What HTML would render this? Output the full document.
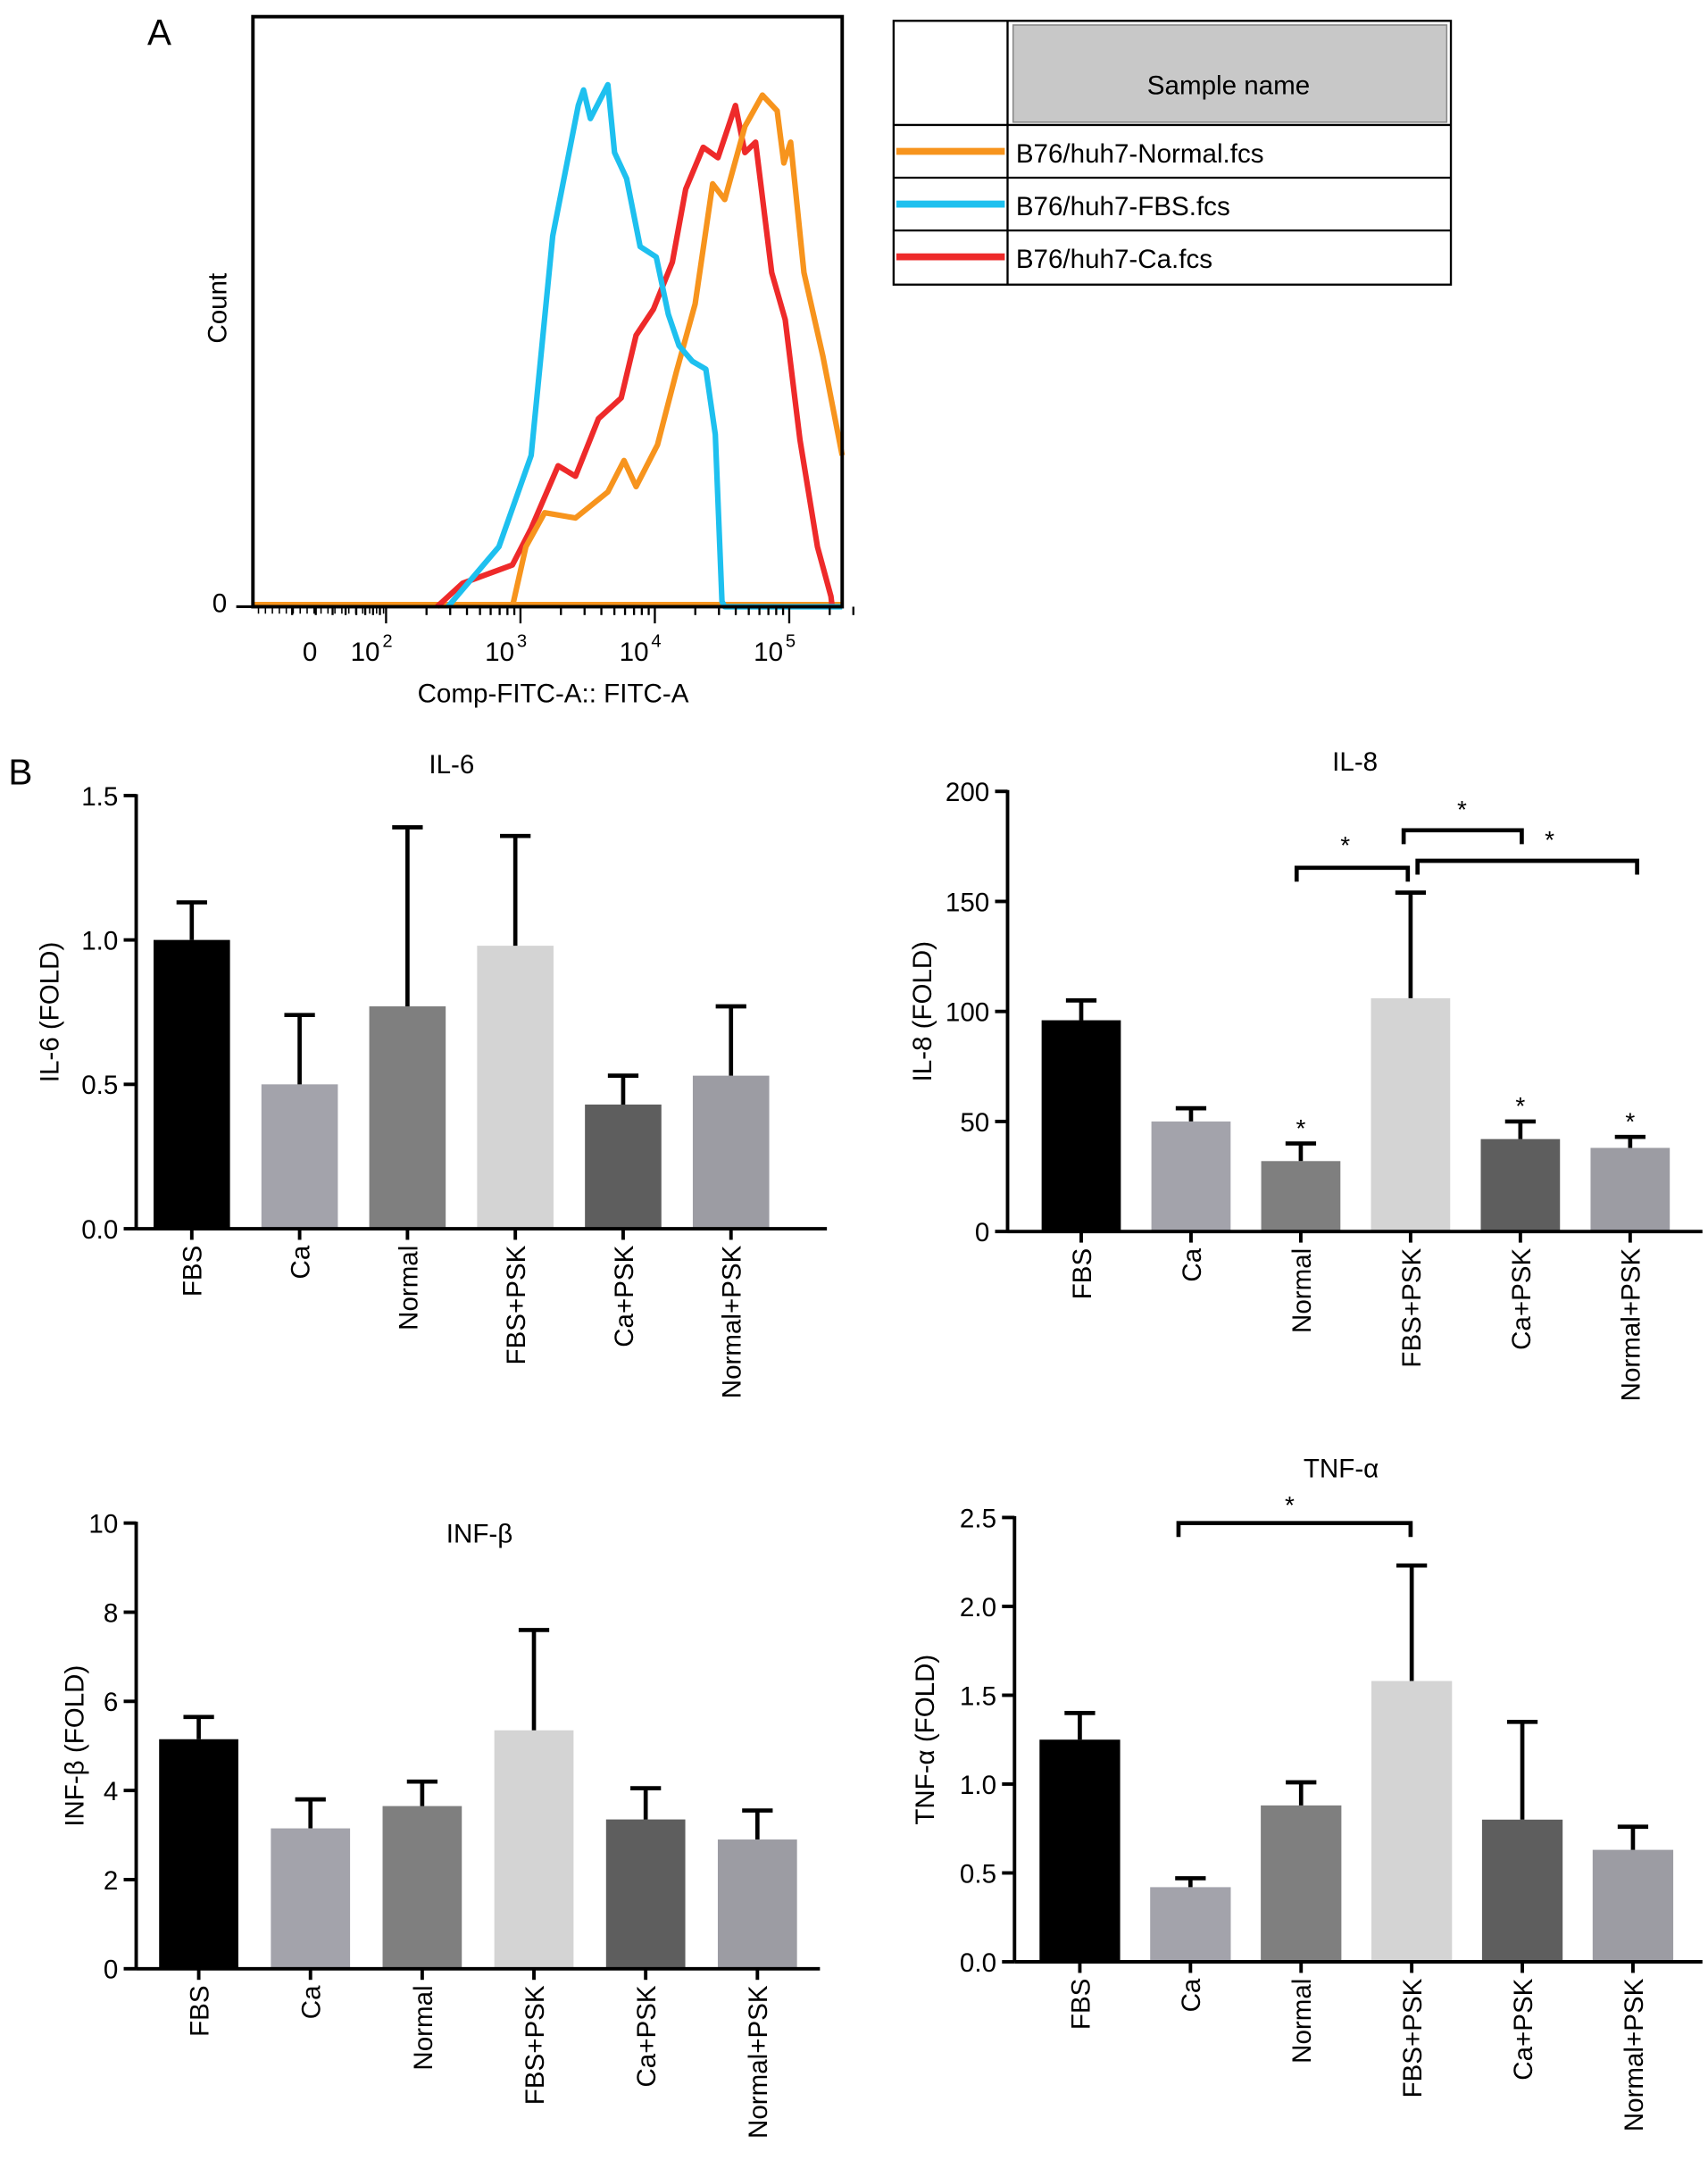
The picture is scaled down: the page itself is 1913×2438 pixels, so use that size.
<!DOCTYPE html>
<html><head><meta charset="utf-8">
<style>
html,body{margin:0;padding:0;background:#fff;}
svg{display:block;font-family:"Liberation Sans",Arial,sans-serif;}
</style></head>
<body>
<svg id="fig" width="1913" height="2438" viewBox="0 0 1229 1568" preserveAspectRatio="none" xmlns="http://www.w3.org/2000/svg">
<g id="panelA"></g>
<g id="panelB"></g>
</svg>
<script>
// ---------- Panel A data ----------
const histLogX_blue = [2.46,2.84,3.08,3.24,3.43,3.47,3.52,3.65,3.70,3.79,3.89,4.01,4.10,4.18,4.28,4.38,4.45,4.50,4.52,5.6];
const histY_blue    = [0,0.115,0.29,0.71,0.96,0.99,0.935,1.0,0.87,0.82,0.69,0.67,0.56,0.50,0.47,0.455,0.33,0.01,0,0];
const histLogX_red  = [2.38,2.57,2.94,3.08,3.28,3.41,3.58,3.75,3.86,3.99,4.13,4.23,4.36,4.47,4.60,4.67,4.75,4.87,4.97,5.08,5.21,5.31,5.32];
const histY_red     = [0,0.045,0.08,0.15,0.27,0.25,0.36,0.40,0.52,0.57,0.66,0.80,0.88,0.86,0.96,0.87,0.89,0.64,0.55,0.32,0.115,0.02,0];
const histLogX_org  = [2.94,3.04,3.18,3.41,3.65,3.77,3.86,4.02,4.16,4.30,4.43,4.52,4.67,4.80,4.91,4.96,5.01,5.11,5.25,5.40];
const histY_org     = [0,0.115,0.18,0.17,0.22,0.28,0.23,0.31,0.45,0.58,0.81,0.78,0.92,0.98,0.95,0.85,0.89,0.64,0.48,0.29];
const histTickLabels = ["0","10","10","10","10"];
const histTickExp    = ["","2","3","4","5"];
const histTickPos    = [1.25,2,3,4,5];
const legendNames = ["B76/huh7-Normal.fcs","B76/huh7-FBS.fcs","B76/huh7-Ca.fcs"];
const legendColors = ["#f7941d","#1ec0ef","#ee2a2a"];

// ---------- Panel B data ----------
const categories = ["FBS","Ca","Normal","FBS+PSK","Ca+PSK","Normal+PSK"];
const il6Values = [1.0,0.5,0.77,0.98,0.43,0.53];
const il6Errors = [1.13,0.74,1.39,1.36,0.53,0.77];
const il6Ticks  = ["0.0","0.5","1.0","1.5"];
const il8Values = [96,50,32,106,42,38];
const il8Errors = [105,56,40,154,50,43];
const il8Ticks  = ["0","50","100","150","200"];
const il8Stars  = [false,false,true,false,true,true];
const infValues = [5.15,3.15,3.65,5.35,3.35,2.9];
const infErrors = [5.65,3.8,4.2,7.6,4.05,3.55];
const infTicks  = ["0","2","4","6","8","10"];
const tnfValues = [1.25,0.42,0.88,1.58,0.8,0.63];
const tnfErrors = [1.4,0.47,1.01,2.23,1.35,0.76];
const tnfTicks  = ["0.0","0.5","1.0","1.5","2.0","2.5"];
const barColors = ["#000000","#a3a3ab","#7f7f7f","#d4d4d4","#5e5e5e","#9c9ca3"];

const NS="http://www.w3.org/2000/svg";
function mk(tag,attrs,parent,text){const e=document.createElementNS(NS,tag);for(const k in attrs)e.setAttribute(k,attrs[k]);if(text!==undefined)e.textContent=text;parent.appendChild(e);return e;}

// ---------- Panel A ----------
const A=document.getElementById('panelA');
const hx=v=>374.5+(v-3)*96.7;
const hy=f=>437-f*376;
let t;
t=mk('text',{x:106,y:32,'font-size':26},A,'A');


function drawCurve(xs,ys,color,name){
  let d='';
  for(let i=0;i<xs.length;i++){d+=(i?'L':'M')+Math.min(606,Math.max(182,hx(xs[i]))).toFixed(1)+','+hy(ys[i]).toFixed(1);}
  const p=mk('path',{d:d,fill:'none',stroke:color,'stroke-width':4,'stroke-linejoin':'round'},A);
  
  
}
const bl=mk('line',{x1:182,y1:435,x2:606,y2:435,stroke:'#f7941d','stroke-width':3},A);


drawCurve(histLogX_red,histY_red,'#ee2a2a','histogram-ca');
drawCurve(histLogX_org,histY_org,'#f7941d','histogram-normal');
drawCurve(histLogX_blue,histY_blue,'#1ec0ef','histogram-fbs');
const box=mk('rect',{x:182,y:12,width:424,height:425,fill:'none',stroke:'#000','stroke-width':2.5},A);


t=mk('text',{x:0,y:0,'font-size':19,'text-anchor':'middle',transform:'translate(163,222) rotate(-90)'},A,'Count');


t=mk('text',{x:158,y:441,'font-size':19,'text-anchor':'middle'},A,'0');


mk('line',{x1:170,y1:437,x2:182,y2:437,stroke:'#000','stroke-width':2},A);
for(let d=1;d<=5;d++){
  for(let m=1;m<10;m++){
    const v=d+Math.log10(m); if(v>5.5)continue;
    const px=hx(v); if(px<182)continue;
    mk('line',{x1:px,y1:437,x2:px,y2:m===1?449:443,stroke:'#000','stroke-width':1.5},A);
  }
}
for(let px=186;px<=278;px+=5){mk('line',{x1:px,y1:437,x2:px,y2:442,stroke:'#000','stroke-width':1},A);}
for(let i=0;i<histTickLabels.length;i++){
  const px=i===0?223:hx(histTickPos[i])-15;
  t=mk('text',{x:px,y:476,'font-size':19,'text-anchor':'middle'},A,histTickLabels[i]);
  
  
  if(histTickExp[i])mk('text',{x:px+16,y:466,'font-size':13,'text-anchor':'middle'},A,histTickExp[i]);
}
t=mk('text',{x:398,y:506,'font-size':19,'text-anchor':'middle'},A,'Comp-FITC-A:: FITC-A');


const L=mk('g',{},A);


mk('rect',{x:643,y:15,width:401,height:190,fill:'#fff',stroke:'#000','stroke-width':1.5},L);
mk('rect',{x:729,y:18,width:312,height:70,fill:'#c8c8c8',stroke:'#888','stroke-width':1},L);
mk('line',{x1:725,y1:15,x2:725,y2:205,stroke:'#000','stroke-width':1.5},L);
t=mk('text',{x:884,y:68,'font-size':19,'text-anchor':'middle'},L,'Sample name');


const rowTop=[90,128,166];
for(let i=0;i<3;i++){
  mk('line',{x1:643,y1:rowTop[i],x2:1044,y2:rowTop[i],stroke:'#000','stroke-width':1.5},L);
  const ln=mk('line',{x1:645,y1:rowTop[i]+19,x2:723,y2:rowTop[i]+19,stroke:legendColors[i],'stroke-width':5},L);
  
  
  t=mk('text',{x:731,y:rowTop[i]+27,'font-size':19},L,legendNames[i]);
  
  
}

// ---------- Panel B ----------
const B=document.getElementById('panelB');
t=mk('text',{x:6,y:565,'font-size':26},B,'B');



function barChart(cfg){
  const g=mk('g',{},B);
  
  
  const yS=v=>cfg.y0-(v/cfg.max)*(cfg.y0-cfg.yTop);
  const xS=i=>cfg.c0+i*cfg.step;
  for(let i=0;i<cfg.values.length;i++){
    const r=mk('rect',{x:xS(i)-cfg.bw/2,y:yS(cfg.values[i]),width:cfg.bw,height:cfg.y0-yS(cfg.values[i]),fill:barColors[i]},g);
    
    
    const e=mk('path',{d:`M${xS(i)},${yS(cfg.values[i])}V${yS(cfg.errors[i])}M${xS(i)-11},${yS(cfg.errors[i])}H${xS(i)+11}`,stroke:'#000','stroke-width':3,fill:'none'},g);
    
    
    if(cfg.stars&&cfg.stars[i]){
      t=mk('text',{x:xS(i),y:yS(cfg.errors[i])-5,'font-size':18,'text-anchor':'middle'},g,'*');
      
      
    }
    t=mk('text',{x:0,y:0,'font-size':19,'text-anchor':'end',transform:`translate(${xS(i)+7},${cfg.y0+12}) rotate(-90)`},g,categories[i]);
    
    
  }
  mk('line',{x1:cfg.ax,y1:cfg.yTop-1,x2:cfg.ax,y2:cfg.y0,stroke:'#000','stroke-width':2.5},g);
  mk('line',{x1:cfg.ax,y1:cfg.y0,x2:cfg.xEnd,y2:cfg.y0,stroke:'#000','stroke-width':2.5},g);
  for(let i=0;i<cfg.ticks.length;i++){
    const v=parseFloat(cfg.ticks[i]);const py=yS(v);
    mk('line',{x1:cfg.ax-9,y1:py,x2:cfg.ax,y2:py,stroke:'#000','stroke-width':2.5},g);
    t=mk('text',{x:cfg.ax-13,y:py+7,'font-size':19,'text-anchor':'end'},g,cfg.ticks[i]);
    
    
  }
  for(let i=0;i<cfg.values.length;i++){mk('line',{x1:xS(i),y1:cfg.y0,x2:xS(i),y2:cfg.y0+8,stroke:'#000','stroke-width':2.5},g);}
  t=mk('text',{x:cfg.tx,y:cfg.ty,'font-size':19,'text-anchor':'middle'},g,cfg.title);
  
  
  t=mk('text',{x:0,y:0,'font-size':19,'text-anchor':'middle',transform:`translate(${cfg.ytx},${(cfg.y0+cfg.yTop)/2}) rotate(-90)`},g,cfg.ytitle);
  
  
  (cfg.brackets||[]).forEach(b=>{
    const p=mk('path',{d:`M${b[0]},${b[2]+10}V${b[2]}H${b[1]}V${b[2]+10}`,stroke:'#000','stroke-width':3,fill:'none'},g);
    
    
    t=mk('text',{x:b[3],y:b[4],'font-size':18,'text-anchor':'middle'},g,'*');
    
    
  });
}
barChart({name:'il6-chart',values:il6Values,errors:il6Errors,ticks:il6Ticks,max:1.5,y0:885,yTop:573,ax:98,xEnd:595,c0:138,step:77.6,bw:55,title:'IL-6',tx:325,ty:557,ytitle:'IL-6 (FOLD)',ytx:42});
barChart({name:'il8-chart',values:il8Values,errors:il8Errors,ticks:il8Ticks,stars:il8Stars,max:200,y0:887,yTop:570,ax:725,xEnd:1225,c0:778,step:79,bw:57,title:'IL-8',tx:975,ty:555,ytitle:'IL-8 (FOLD)',ytx:670,
  brackets:[[933,1013,625,968,615],[1010,1095,598,1052,589],[1020,1178,620,1115,611]]});
barChart({name:'inf-beta-chart',values:infValues,errors:infErrors,ticks:infTicks,max:10,y0:1418,yTop:1097,ax:98,xEnd:590,c0:143,step:80.4,bw:57,title:'INF-β',tx:345,ty:1111,ytitle:'INF-β (FOLD)',ytx:60});
barChart({name:'tnf-alpha-chart',values:tnfValues,errors:tnfErrors,ticks:tnfTicks,max:2.5,y0:1413,yTop:1093,ax:730,xEnd:1225,c0:777,step:79.6,bw:58,title:'TNF-α',tx:965,ty:1064,ytitle:'TNF-α (FOLD)',ytx:672,
  brackets:[[848,1015,1097,928,1090]]});
</script>
</body></html>
